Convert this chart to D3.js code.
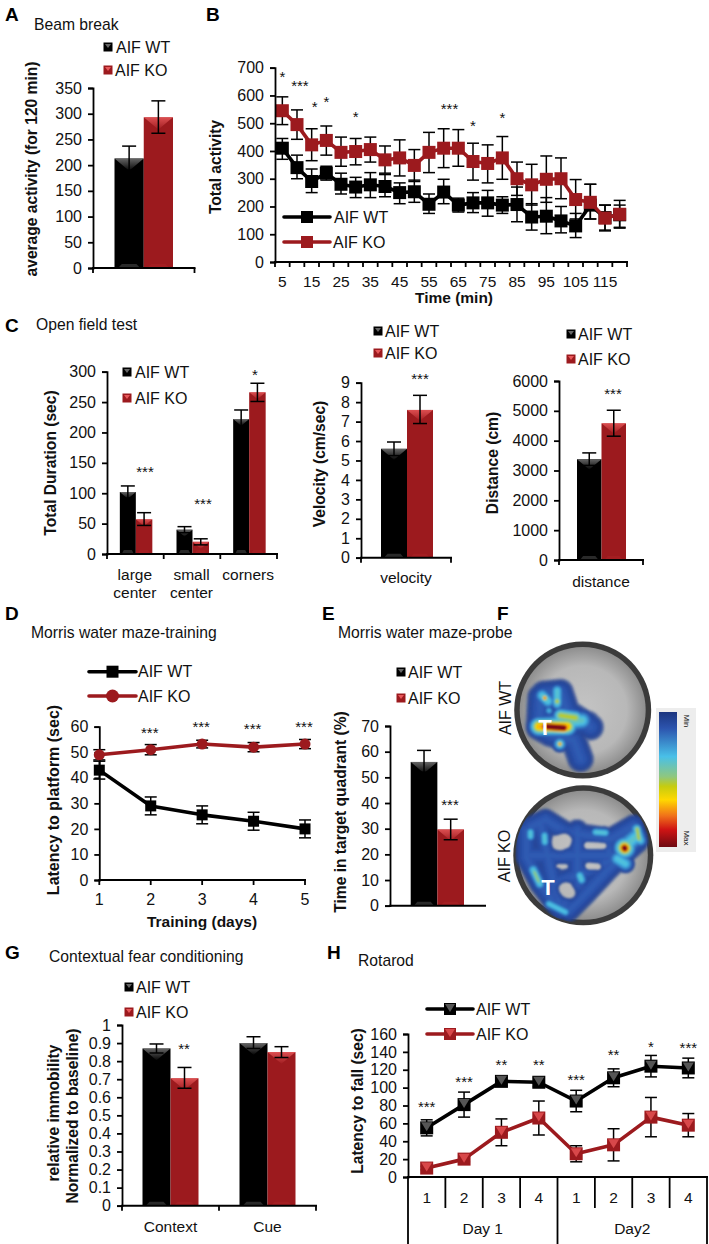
<!DOCTYPE html>
<html><head><meta charset="utf-8">
<script src="https://cdn.jsdelivr.net/npm/d3@7/dist/d3.min.js"></script>
<style>
html,body{margin:0;padding:0;background:#fff}
svg{display:block}
text{font-family:"Liberation Sans",Arial,sans-serif;fill:#111}
</style></head><body>
<svg id="c" width="709" height="1244"></svg>
<script>
// ---------- data ----------
const seriesNames = ["AIF WT","AIF KO"];
const aWT=[213], aKO=[293], aHi=[[237],[325]], aLo=[[190],[262]];
const aTicks=[0,50,100,150,200,250,300,350];

const bMinutes=[5,10,15,20,25,30,35,40,45,50,55,60,65,70,75,80,85,90,95,100,105,110,115,120];
const bWT=[410,340,290,320,280,270,278,272,250,253,208,252,205,213,213,205,207,162,165,148,130,205,160,170];
const bWTHi=[445,385,335,345,320,305,322,315,285,295,245,298,230,250,258,235,270,210,232,200,175,280,205,205];
const bWTLo=[370,300,250,295,245,232,232,235,210,215,175,210,180,178,165,175,145,115,102,105,88,155,115,125];
const bKO=[545,495,422,438,395,398,405,368,375,348,395,410,410,362,355,375,300,278,298,300,225,215,158,172];
const bKOHi=[595,548,480,490,450,445,450,418,440,405,467,480,477,428,422,452,360,352,382,375,297,280,205,222];
const bKOLo=[495,442,365,385,345,350,360,320,310,290,322,340,345,295,285,298,240,205,215,228,155,155,112,122];
const bStars=[["*",5,681],["***",11,648],["*",16,573],["*",20,591],["*",30,537],["***",62,566],["*",70,504],["*",80,533]];

const c1Cats=[["large","center"],["small","center"],["corners"]];
const c1WT=[102,40,222], c1WTHi=[112,45,237], c1WTLo=[92,35,207];
const c1KO=[57,20,266], c1KOHi=[68,25,281], c1KOLo=[47,15,251];
const c1Ticks=[0,50,100,150,200,250,300];
const c2WT=[5.6],c2KO=[7.6],c2Hi=[[5.95],[8.35]],c2Lo=[[5.25],[6.9]];
const c2Ticks=[0,1,2,3,4,5,6,7,8,9];
const c3WT=[3380],c3KO=[4580],c3Hi=[[3590],[5020]],c3Lo=[[3170],[4150]];
const c3Ticks=[0,1000,2000,3000,4000,5000,6000];

const dDays=[1,2,3,4,5];
const dWT=[43,29,25.5,23,20], dWTErr=[3.5,3.5,3.5,3.5,3.5];
const dKO=[49,51,53.2,52,53.2], dKOErr=[2,2,1.5,1.8,1.8];
const dStars=[2,3,4,5], dStarVals=[59,61.5,60.5,61.5];
const dTicks=[0,10,20,30,40,50,60];
const eWT=[56],eKO=[29.7],eHi=[[60.5],[33.7]],eLo=[[52],[25.7]];
const eTicks=[0,10,20,30,40,50,60,70];

const gCats=["Context","Cue"];
const gWT=[.87,.90],gWTHi=[.895,.935],gWTLo=[.845,.87];
const gKO=[.705,.85],gKOHi=[.765,.88],gKOLo=[.65,.82];
const gTicks=[0,.1,.2,.3,.4,.5,.6,.7,.8,.9,1];

const hTrials=["1","2","3","4","1","2","3","4"];
const hDays=["Day 1","Day2"];
const hWT=[55,81,107,106,85,111,124,122], hWTErr=[9,14,5,5,12,10,12,11];
const hKO=[10,20,50,66,26,36,67,58], hKOErr=[2,3,15,19,9,18,22,13];
const hStars=["***","***","**","**","***","**","*","***"], hStarVals=[82,110,129,129,113,141,150,149];
const hTicks=[0,20,40,60,80,100,120,140,160];

// heat map strokes: [peak, spread, polyline], in a 450x450 arena frame
const heatWT=[
 [.14,26,[100,160,150,155,170,215,240,260]],
 [.14,26,[90,170,85,260,120,280,190,300,210,355]],
 [.14,26,[100,240,230,250]],
 [.4,17,[85,255,215,240]],
 [.38,13,[95,165,112,182]],[.38,11,[140,150,140,190]],
 [.85,5,[103,172,103,173]],[.58,8,[140,182,140,183]],
 [.33,7,[115,210,116,211]],
 [.55,13,[150,225,195,232]],[.72,16,[85,258,170,258]],[1.15,10,[105,258,160,262]],
 [.42,12,[148,310,148,311]],[.8,5,[148,310,148,311]]
];
const heatKO=[
 [.14,22,[60,140,105,118,165,155,300,175,365,140]],
 [.14,22,[48,150,48,230,90,310,140,375,175,390]],
 [.14,22,[175,390,225,340,290,270,335,225]],
 [.14,22,[335,225,380,185,370,135,300,175]],
 [.14,22,[90,130,110,220,130,310,150,380]],
 [.14,22,[200,150,200,290]],[.14,22,[60,225,330,225]],
 [.14,22,[130,310,210,280,300,240]],[.14,22,[150,385,210,300]],[.14,22,[280,170,300,230]],
 [.38,8,[60,155,60,168]],[.38,8,[102,165,103,185]],[.38,8,[255,155,285,157]],
 [.38,9,[208,285,213,298]],[.38,10,[68,268,88,310]],[.5,6,[72,275,84,302]],
 [.36,8,[115,370,165,395]],[.38,11,[378,145,390,180]],[.55,7,[380,145,385,175]],
 [.36,14,[320,235,345,250]],[.38,18,[340,200,375,170]],
 [.72,18,[342,202,343,203]],[1.15,10,[342,202,343,204]]
];
const heatHoles=[[.3,12,[148,188,162,178]],[.3,5.5,[232,195,280,196]],[.3,6,[235,258,262,258]],
 [.07,4,[140,257,165,257]],[.3,12,[165,325,175,335]]];
const rampStops=[0,.12,.33,.48,.55,.65,.77,.87,1];
const rampColors=["#1c357f","#2c54ae","#49c0e8","#8fc77e","#c5cc10","#ffd800","#f0701a","#cf1414","#6e0a12"];
const colorbarLabels=["Min","Max"];

// ---------- helpers ----------
const BLK="#000", RED="#9c1a1e";
const svg=d3.select("#c");
const defs=svg.append("defs");
[["gTriK","#777"],["gTriR","#e8585a"]].forEach(([id,col])=>{
  const g=defs.append("linearGradient").attr("id",id).attr("x1",0).attr("y1",0).attr("x2",0).attr("y2",1);
  g.append("stop").attr("offset",0).attr("stop-color",col).attr("stop-opacity",.85);
  g.append("stop").attr("offset",1).attr("stop-color",col).attr("stop-opacity",.05);
});
const soft=defs.append("filter").attr("id","soft");soft.append("feGaussianBlur").attr("stdDeviation",.8);

function text(t,x,y,o={}){
  const s=svg.append("text").attr("x",x).attr("y",y).text(t)
    .attr("font-size",o.size||15).attr("text-anchor",o.anchor||"start");
  if(o.bold)s.attr("font-weight","bold");
  if(o.fill)s.style("fill",o.fill);
  return s;
}
const mid=(t,x,y,o={})=>text(t,x,y+(o.size||15)*.35,o);
function yTitle(t,x,cy,size){
  svg.append("text").attr("transform",`translate(${x},${cy}) rotate(-90)`).attr("text-anchor","middle")
   .attr("dy","0.35em").attr("font-weight","bold").attr("font-size",size||15.6).text(t);
}
function yAxis(scale,x,ticks,fmt){
  const a=d3.axisLeft(scale).tickValues(ticks).tickSize(5).tickPadding(6).tickFormat(fmt||d3.format("d"));
  const g=svg.append("g").attr("transform",`translate(${x},0)`).call(a);
  g.selectAll("path,line").attr("stroke","#000").attr("stroke-width",1.8);
  g.selectAll("text").attr("font-size",16).attr("font-family","Liberation Sans").style("fill","#111");
  return g;
}
function xBase(x0,x1,y){
  svg.append("line").attr("x1",x0-1).attr("x2",x1+1).attr("y1",y).attr("y2",y).attr("stroke","#000").attr("stroke-width",2);
}
function xEdgeTicks(edges,y){
  svg.selectAll(null).data(edges).enter().append("line").attr("x1",d=>d).attr("x2",d=>d)
   .attr("y1",y).attr("y2",y+5).attr("stroke","#000").attr("stroke-width",1.8);
}
function err(x,hi,lo,cap,col){
  const g=svg.append("g").attr("stroke",col||"#000").attr("stroke-width",1.5);
  g.append("line").attr("x1",x).attr("x2",x).attr("y1",hi).attr("y2",lo);
  g.append("line").attr("x1",x-cap).attr("x2",x+cap).attr("y1",hi).attr("y2",hi);
  g.append("line").attr("x1",x-cap).attr("x2",x+cap).attr("y1",lo).attr("y2",lo);
}
function bar(x,w,top,base,col,hi,lo,cap){
  svg.append("rect").attr("x",x).attr("y",top).attr("width",w).attr("height",base-top).attr("fill",col);
  const tri=Math.min(w*.42,(base-top));
  svg.append("path").attr("d",`M${x},${top}L${x+w},${top}L${x+w/2},${top+tri}Z`)
    .attr("fill",`url(#${col===BLK?"gTriK":"gTriR"})`);
  svg.append("path").attr("d",`M${x+w*.12},${base}L${x+w*.25},${base-4}L${x+w*.75},${base-4}L${x+w*.88},${base}Z`)
    .attr("fill",col===BLK?"#2a2a2a":"#a41e22");
  err(x+w/2,hi,lo,cap);
}
function swatch(x,y,col,label,tx){
  svg.append("rect").attr("x",x-4.5).attr("y",y-4.5).attr("width",9).attr("height",9).attr("fill",col);
  svg.append("path").attr("d",`M${x-3},${y-3}L${x+3},${y-3}L${x},${y+1}Z`).attr("fill",col===BLK?"#666":"#e8585a");
  mid(label,tx,y,{size:16});
}
function marker(x,y,col,shape,tri,size){
  const s=size||12;
  if(shape==="circle") svg.append("circle").attr("cx",x).attr("cy",y).attr("r",s/2+.5).attr("fill",col);
  else svg.append("rect").attr("x",x-s/2).attr("y",y-s/2).attr("width",s).attr("height",s).attr("fill",col);
  if(tri) svg.append("path").attr("d",`M${x-s/2+1},${y-s/2+1}L${x+s/2-1},${y-s/2+1}L${x},${y+s/2-3}Z`).attr("fill",col===BLK?"#555":"#d8484a");
}
function lineLegend(x0,x1,y,col,label,tx,shape,tri){
  svg.append("line").attr("x1",x0).attr("x2",x1).attr("y1",y).attr("y2",y).attr("stroke",col).attr("stroke-width",3.6).attr("stroke-linecap","round");
  marker((x0+x1)/2,y,col,shape,tri);
  mid(label,tx,y,{size:16});
}
function series(xs,vals,hi,lo,y,col,shape,cap,tri,size,lw){
  const ln=d3.line().x((d,i)=>xs[i]).y(d=>y(d));
  svg.append("path").attr("d",ln(vals)).attr("fill","none").attr("stroke",col).attr("stroke-width",lw||3.6).attr("stroke-linejoin","round");
  vals.forEach((v,i)=>{err(xs[i],y(hi[i]),y(lo[i]),cap);});
  vals.forEach((v,i)=>{marker(xs[i],y(v),col,shape,tri,size);});
}
function stars(t,x,y,size){
  const s=size||15;
  text(t,x,y+s*.58,{size:s,anchor:"middle"});
}
const letter=(t,x,y)=>text(t,x,y,{size:19,bold:true,fill:"#000"});
const title=(t,x,y)=>mid(t,x,y,{size:15.7});

// ---------- Panel A ----------
{ letter("A",5,21); title("Beam break",34,25);
  const y=d3.scaleLinear().domain([0,350]).range([268,88]);
  const x=d3.scaleBand().domain(seriesNames).range([114.5,173]);
  bar(x("AIF WT"),x.bandwidth(),y(aWT[0]),y(0),BLK,y(aHi[0][0]),y(aLo[0][0]),7);
  bar(x("AIF KO"),x.bandwidth(),y(aKO[0]),y(0),RED,y(aHi[1][0]),y(aLo[1][0]),7);
  yAxis(y,93,aTicks); xBase(93,194.5,268); xEdgeTicks([93,194.5],268);
  yTitle("average activity (for 120 min)",32,169);
  swatch(108,47,BLK,seriesNames[0],116); swatch(108,70,RED,seriesNames[1],115);
}
// ---------- Panel B ----------
{ letter("B",206,21);
  const y=d3.scaleLinear().domain([0,700]).range([262,67.7]);
  const x=d3.scaleBand().domain(bMinutes).range([275,627]);
  const xs=bMinutes.map(m=>x(m)+x.bandwidth()/2);
  series(xs,bWT,bWTHi,bWTLo,y,BLK,"rect",6,false,13);
  series(xs,bKO,bKOHi,bKOLo,y,RED,"rect",6,false,13);
  yAxis(y,275,d3.range(0,701,100)); xBase(275,627,262);
  xEdgeTicks(bMinutes.map(m=>x(m)).concat([627]),262);
  bMinutes.forEach((m,i)=>{ if(i%2===0) text(m,x(m)+x.bandwidth()/2,287,{size:15.5,anchor:"middle"}); });
  text("Time (min)",454,303,{size:15.5,bold:true,anchor:"middle"});
  yTitle("Total activity",216,167);
  const sx=d3.scaleLinear().domain([5,120]).range(d3.extent(xs));
  bStars.forEach(s=>stars(s[0],sx(s[1]),y(s[2])));
  lineLegend(284,330,217,BLK,seriesNames[0],334,"rect");
  lineLegend(284,330,242,RED,seriesNames[1],333,"rect");
}
// ---------- Panel C ----------
{ letter("C",5,332); title("Open field test",36,325);
  const y=d3.scaleLinear().domain([0,300]).range([554,371.7]);
  const x=d3.scaleBand().domain(d3.range(3)).range([107,277]);
  c1Cats.forEach((c,i)=>{
    const cx=x(i)+x.bandwidth()/2+.5;
    bar(cx-16,16,y(c1WT[i]),y(0),BLK,y(c1WTHi[i]),y(c1WTLo[i]),7);
    bar(cx,16.5,y(c1KO[i]),y(0),RED,y(c1KOHi[i]),y(c1KOLo[i]),7);
    c.forEach((l,j)=>text(l,cx-1,580+j*18,{size:15.5,anchor:"middle"}));
  });
  yAxis(y,107,c1Ticks); xBase(107,277,554); xEdgeTicks([107,163.7,220.3,277],554);
  yTitle("Total Duration (sec)",51,463);
  stars("***",145,468); stars("***",203,500); stars("*",255,371);
  swatch(127,372,BLK,seriesNames[0],135); swatch(127,398,RED,seriesNames[1],135);
}
{ const y=d3.scaleLinear().domain([0,9]).range([557.7,382.7]);
  const x=d3.scaleBand().domain(seriesNames).range([381,433]);
  bar(x("AIF WT"),x.bandwidth(),y(c2WT[0]),y(0),BLK,y(c2Hi[0][0]),y(c2Lo[0][0]),7);
  bar(x("AIF KO"),x.bandwidth(),y(c2KO[0]),y(0),RED,y(c2Hi[1][0]),y(c2Lo[1][0]),7);
  yAxis(y,361,c2Ticks); xBase(361,451,557.7); xEdgeTicks([361,451],557.7);
  yTitle("Velocity (cm/sec)",320,464);
  text("velocity",406,583,{size:15.5,anchor:"middle"});
  stars("***",420,375);
  swatch(378,331,BLK,seriesNames[0],385); swatch(378,353,RED,seriesNames[1],385);
}
{ const y=d3.scaleLinear().domain([0,6000]).range([560,381]);
  const x=d3.scaleBand().domain(seriesNames).range([577,626]);
  bar(x("AIF WT"),x.bandwidth(),y(c3WT[0]),y(0),BLK,y(c3Hi[0][0]),y(c3Lo[0][0]),7);
  bar(x("AIF KO"),x.bandwidth(),y(c3KO[0]),y(0),RED,y(c3Hi[1][0]),y(c3Lo[1][0]),7);
  yAxis(y,559,c3Ticks); xBase(559,643,560); xEdgeTicks([559,643],560);
  yTitle("Distance (cm)",493,463);
  text("distance",601,587,{size:15.5,anchor:"middle"});
  stars("***",613,390);
  swatch(571,334,BLK,seriesNames[0],578); swatch(571,359,RED,seriesNames[1],578);
}
// ---------- Panel D ----------
{ letter("D",5,620); title("Morris water maze-training",31,633);
  const y=d3.scaleLinear().domain([0,60]).range([880,726.7]);
  const x=d3.scalePoint().domain(dDays).range([99.3,305]);
  const xs=dDays.map(x);
  yAxis(y,99.3,dTicks); xBase(99.3,305,880); xEdgeTicks(xs,880);
  series(xs,dWT,dWT.map((v,i)=>v+dWTErr[i]),dWT.map((v,i)=>v-dWTErr[i]),y,BLK,"rect",6,false,11);
  series(xs,dKO,dKO.map((v,i)=>v+dKOErr[i]),dKO.map((v,i)=>v-dKOErr[i]),y,RED,"circle",6,false,10);
  dDays.forEach(d=>text(d,x(d),905,{size:16,anchor:"middle"}));
  text("Training (days)",202,927,{size:15.5,bold:true,anchor:"middle"});
  yTitle("Latency to platform (sec)",53,800,16);
  dStars.forEach((d,i)=>stars("***",x(d)-1,y(dStarVals[i])));
  lineLegend(89,136,671.7,BLK,seriesNames[0],138,"rect");
  lineLegend(89,136,696,RED,seriesNames[1],138,"circle");
}
// ---------- Panel E ----------
{ letter("E",322,620); title("Morris water maze-probe",338,633);
  const y=d3.scaleLinear().domain([0,70]).range([905.7,726]);
  const x=d3.scaleBand().domain(seriesNames).range([410.7,464]);
  bar(x("AIF WT"),x.bandwidth(),y(eWT[0]),y(0),BLK,y(eHi[0][0]),y(eLo[0][0]),7);
  bar(x("AIF KO"),x.bandwidth(),y(eKO[0]),y(0),RED,y(eHi[1][0]),y(eLo[1][0]),7);
  yAxis(y,390,eTicks); xBase(390,485,905.7);
  yTitle("Time in target quadrant (%)",341,812);
  stars("***",450,801);
  swatch(401,672,BLK,seriesNames[0],408); swatch(401,698,RED,seriesNames[1],408);
}
// ---------- Panel F ----------
{ letter("F",497,620);
  const ramp=d3.scaleLinear().domain(rampStops).range(rampColors).clamp(true);
  const ag=defs.append("radialGradient").attr("id","arena");
  [[0,"#c4c4c4"],[.7,"#b8b8b8"],[1,"#8e8e8e"]].forEach(s=>ag.append("stop").attr("offset",s[0]).attr("stop-color",s[1]));
  function arena(id,cx,cy,r,ox,oy,strokes,holes,clipR){
    svg.append("circle").attr("cx",cx).attr("cy",cy).attr("r",r).attr("fill","#3b3b3b");
    svg.append("circle").attr("cx",cx).attr("cy",cy).attr("r",r-5.5).attr("fill","url(#arena)");
    defs.append("clipPath").attr("id",id).append("circle").attr("cx",cx).attr("cy",cy).attr("r",clipR);
    const W=150,H=150,vals=new Float64Array(W*H);
    const pts=strokes.map(s=>({a:s[0],sd:s[1],p:d3.pairs(d3.range(s[2].length/2).map(i=>[s[2][2*i],s[2][2*i+1]]))}));
    const dist2=(x,y,[a,b])=>{const dx=b[0]-a[0],dy=b[1]-a[1],l=dx*dx+dy*dy||1;
      const t=Math.max(0,Math.min(1,((x-a[0])*dx+(y-a[1])*dy)/l));
      const qx=a[0]+t*dx-x,qy=a[1]+t*dy-y;return qx*qx+qy*qy;};
    for(let j=0;j<H;j++)for(let i=0;i<W;i++){
      const X=i*3,Y=j*3; let v=0;
      pts.forEach(s=>{let d=Infinity;s.p.forEach(seg=>{d=Math.min(d,dist2(X,Y,seg));});
        v=Math.max(v,s.a*Math.exp(-d/(2*s.sd*s.sd)));});
      (holes||[]).forEach(h=>{const s=h[2];const d=dist2(X,Y,[[s[0],s[1]],[s[2],s[3]]]);v-=h[0]*Math.exp(-d/(2*h[1]*h[1]));});
      vals[j*W+i]=Math.max(0,v);
    }
    const th=d3.range(.04,1,.012);
    const cs=d3.contours().size([W,H]).thresholds(th)(vals);
    const g=svg.append("g").attr("clip-path",`url(#${id})`).append("g").attr("filter","url(#soft)")
      .attr("transform",`translate(${ox},${oy})`);
    const path=d3.geoPath();
    g.selectAll("path").data(cs).enter().append("path").attr("d",path)
      .attr("fill",d=>ramp(d.value)).attr("fill-opacity",d=>d.value<.06?.55:1);
  }
  arena("cWT",582.7,710,68.5,510,640,heatWT,null,63);
  arena("cKO",583.3,855.3,70,510,780,heatKO,heatHoles,68);
  text("T",545,735,{size:22,bold:true,anchor:"middle",fill:"#fff"});
  text("T",548,895,{size:22,bold:true,anchor:"middle",fill:"#fff"});
  svg.append("text").attr("transform","translate(511,708) rotate(-90)").attr("text-anchor","middle").attr("font-size",16).text(seriesNames[0]);
  svg.append("text").attr("transform","translate(510,856) rotate(-90)").attr("text-anchor","middle").attr("font-size",16).text(seriesNames[1]);
  svg.append("rect").attr("x",656).attr("y",708).attr("width",40).attr("height",144).attr("fill","#ededed");
  const cb=defs.append("linearGradient").attr("id","cbar").attr("x1",0).attr("y1",0).attr("x2",0).attr("y2",1);
  rampStops.forEach((s,i)=>cb.append("stop").attr("offset",s).attr("stop-color",rampColors[i]));
  svg.append("rect").attr("x",659).attr("y",712).attr("width",18).attr("height",135).attr("fill","url(#cbar)");
  svg.append("text").attr("transform","translate(684,721) rotate(90)").attr("text-anchor","middle").attr("font-size",8).text(colorbarLabels[0]);
  svg.append("text").attr("transform","translate(684,838) rotate(90)").attr("text-anchor","middle").attr("font-size",8).text(colorbarLabels[1]);
}
// ---------- Panel G ----------
{ letter("G",5,959); title("Contextual fear conditioning",49,957);
  const y=d3.scaleLinear().domain([0,1]).range([1205.7,1025]);
  const x=d3.scaleBand().domain(gCats).range([122,316]);
  gCats.forEach((c,i)=>{
    const cx=x(c)+x.bandwidth()/2;
    bar(cx-28,28,y(gWT[i]),y(0),BLK,y(gWTHi[i]),y(gWTLo[i]),7);
    bar(cx,28,y(gKO[i]),y(0),RED,y(gKOHi[i]),y(gKOLo[i]),7);
    text(c,cx,1232,{size:15.5,anchor:"middle"});
  });
  yAxis(y,122,gTicks,d3.format("~g")); xBase(122,316,1205.7); xEdgeTicks([122,219,316],1205.7);
  yTitle("relative immobility",54,1113); yTitle("Normalized to baseline)",73,1116);
  stars("**",184,1045);
  swatch(129,987,BLK,seriesNames[0],136); swatch(129,1012,RED,seriesNames[1],136);
}
// ---------- Panel H ----------
{ letter("H",327,959); title("Rotarod",358,961);
  const y=d3.scaleLinear().domain([0,160]).range([1177,1034]);
  const x=d3.scaleBand().domain(d3.range(8)).range([408,707]);
  const xs=hTrials.map((t,i)=>x(i)+x.bandwidth()/2);
  series(xs,hWT,hWT.map((v,i)=>v+hWTErr[i]),hWT.map((v,i)=>v-hWTErr[i]),y,BLK,"rect",6,true,13);
  series(xs,hKO,hKO.map((v,i)=>v+hKOErr[i]),hKO.map((v,i)=>v-hKOErr[i]),y,RED,"rect",6,true,13);
  yAxis(y,408,hTicks); xBase(408,707,1177);
  const bw=x.bandwidth(),edges=d3.range(9).map(i=>408+i*bw);
  edges.forEach((e,i)=>svg.append("line").attr("x1",e).attr("x2",e).attr("y1",1177).attr("y2",i%4===0?1244:1208).attr("stroke","#000").attr("stroke-width",1.8));
  hTrials.forEach((t,i)=>text(t,xs[i],1203,{size:15.5,anchor:"middle"}));
  hDays.forEach((d,i)=>text(d,edges[i*4]+bw*2,1234,{size:15.5,anchor:"middle"}));
  hStars.forEach((s,i)=>stars(s,xs[i],y(hStarVals[i])));
  yTitle("Latency to fall (sec)",358,1101);
  lineLegend(427,473,1009,BLK,seriesNames[0],476,"rect",true);
  lineLegend(427,473,1034,RED,seriesNames[1],476,"rect",true);
}
</script></body></html>
